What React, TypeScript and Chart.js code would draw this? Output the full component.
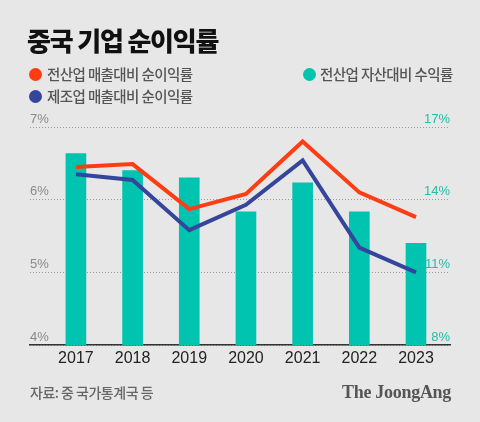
import React, { useEffect, useRef } from "react";
import { Chart, registerables } from "chart.js";

Chart.register(...registerables);

const years = [2017, 2018, 2019, 2020, 2021, 2022, 2023];
const allIndustrySalesMargin = [6.45, 6.49, 5.87, 6.08, 6.8, 6.1, 5.76];
const manufacturingSalesMargin = [6.35, 6.27, 5.58, 5.93, 6.54, 5.34, 5.0];
const allIndustryAssetReturn = [15.9, 15.2, 14.9, 13.5, 14.7, 13.5, 12.2];
const leftTicks = [4, 5, 6, 7];
const rightTicks = [8, 11, 14, 17];

const RED = "#ff3c14";
const BLUE = "#36459c";
const TEAL = "#00c4b0";
const BG = "#e7e7e7";

const KR = "'Noto Sans CJK KR', 'Noto Sans', sans-serif";
const NUM = "'Liberation Sans', Arial, sans-serif";

export default function App() {
  const ref = useRef<HTMLCanvasElement | null>(null);

  useEffect(() => {
    if (!ref.current) return;
    const toXY = (arr: number[]) => arr.map((v, i) => ({ x: years[i], y: v }));
    const chart = new Chart(ref.current, {
      type: "bar",
      data: {
        datasets: [
          {
            type: "line",
            label: "전산업 매출대비 순이익률",
            data: toXY(allIndustrySalesMargin),
            borderColor: RED,
            borderWidth: 4,
            pointRadius: 0,
            tension: 0,
            yAxisID: "y",
            order: 1,
          } as any,
          {
            type: "line",
            label: "제조업 매출대비 순이익률",
            data: toXY(manufacturingSalesMargin),
            borderColor: BLUE,
            borderWidth: 4,
            pointRadius: 0,
            tension: 0,
            yAxisID: "y",
            order: 2,
          } as any,
          {
            type: "bar",
            label: "전산업 자산대비 수익률",
            data: toXY(allIndustryAssetReturn),
            backgroundColor: TEAL,
            borderWidth: 0,
            barThickness: 20,
            yAxisID: "y2",
            order: 3,
          } as any,
        ],
      },
      options: {
        animation: false,
        responsive: false,
        maintainAspectRatio: false,
        layout: { padding: { top: 127, left: 30, right: 30, bottom: 0 } },
        plugins: { legend: { display: false }, tooltip: { enabled: false } },
        scales: {
          x: {
            type: "linear",
            offset: false,
            min: 2016.19,
            max: 2023.6,
            afterBuildTicks: (s: any) => {
              s.ticks = years.map((v) => ({ value: v }));
            },
            afterFit: (s: any) => {
              s.height = 77;
            },
            grid: { display: false, drawTicks: false },
            border: { display: true, color: "#333", width: 1.5 },
            ticks: {
              color: "#222",
              padding: 4,
              font: { family: NUM, size: 16 },
              callback: (v: any) => String(v),
              maxRotation: 0,
              autoSkip: false,
            },
          },
          y: {
            type: "linear",
            position: "left",
            min: 4,
            max: 7,
            afterBuildTicks: (s: any) => {
              s.ticks = leftTicks.map((v) => ({ value: v }));
            },
            afterFit: (s: any) => {
              s.width = 0;
            },
            grid: { color: "#9a9a9a", lineWidth: 1, drawTicks: false },
            border: { display: false, dash: [1, 2] },
            ticks: {
              mirror: true,
              padding: 0,
              labelOffset: -8,
              color: "#8a8a8a",
              font: { family: NUM, size: 13 },
              callback: (v: any) => v + "%",
            },
          },
          y2: {
            type: "linear",
            position: "right",
            min: 8,
            max: 17,
            afterBuildTicks: (s: any) => {
              s.ticks = rightTicks.map((v) => ({ value: v }));
            },
            afterFit: (s: any) => {
              s.width = 0;
            },
            grid: { display: false, drawTicks: false },
            border: { display: false },
            ticks: {
              mirror: true,
              padding: 0,
              labelOffset: -8,
              color: "#1fbfa9",
              font: { family: NUM, size: 13 },
              callback: (v: any) => v + "%",
            },
          },
        },
      } as any,
    });
    return () => chart.destroy();
  }, []);

  const dot = (color: string, left: number, top: number) => (
    <div
      style={{
        position: "absolute",
        left,
        top,
        width: 13,
        height: 13,
        borderRadius: "50%",
        background: color,
      }}
    />
  );
  const legendText = (text: string, left: number, top: number) => (
    <div
      style={{
        position: "absolute",
        left,
        top,
        fontFamily: KR,
        fontSize: 14.5,
        fontWeight: 500,
        letterSpacing: "-0.6px",
        color: "#555",
        lineHeight: "16px",
        whiteSpace: "nowrap",
      }}
    >
      {text}
    </div>
  );

  return (
    <div
      style={{
        position: "absolute",
        left: 0,
        top: 0,
        width: 480,
        height: 422,
        background: BG,
        overflow: "hidden",
      }}
    >
      <canvas ref={ref} width={480} height={422} style={{ position: "absolute", left: 0, top: 0 }} />
      <div
        style={{
          position: "absolute",
          left: 27,
          top: 25,
          fontFamily: KR,
          fontSize: 26,
          fontWeight: 900,
          letterSpacing: "-1.2px",
          color: "#111",
          lineHeight: "30px",
          whiteSpace: "nowrap",
        }}
      >
        중국 기업 순이익률
      </div>
      {dot(RED, 29, 68)}
      {legendText("전산업 매출대비 순이익률", 47, 66)}
      {dot(BLUE, 29, 90)}
      {legendText("제조업 매출대비 순이익률", 47, 88)}
      {dot(TEAL, 303, 68)}
      {legendText("전산업 자산대비 수익률", 320, 66)}
      <div
        style={{
          position: "absolute",
          left: 30,
          top: 384,
          fontFamily: KR,
          fontSize: 14,
          fontWeight: 500,
          letterSpacing: "-0.5px",
          color: "#666",
          lineHeight: "16px",
          whiteSpace: "nowrap",
        }}
      >
        자료: 중 국가통계국 등
      </div>
      <div
        style={{
          position: "absolute",
          right: 29,
          top: 382,
          fontFamily: "'Liberation Serif', 'DejaVu Serif', serif",
          fontSize: 18,
          fontWeight: 700,
          letterSpacing: "-0.3px",
          color: "#555",
          lineHeight: "20px",
          whiteSpace: "nowrap",
        }}
      >
        The JoongAng
      </div>
    </div>
  );
}
